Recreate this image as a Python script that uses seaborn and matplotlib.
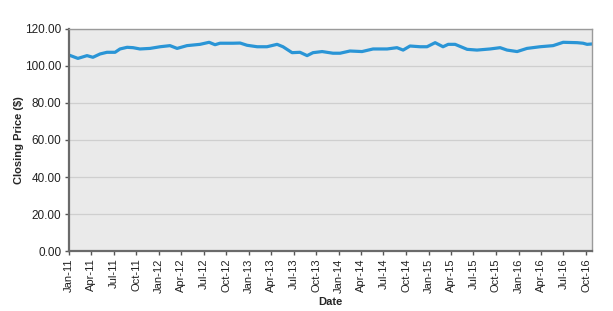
import matplotlib
matplotlib.use("Agg")
import matplotlib.pyplot as plt
import matplotlib.dates as mdates
from matplotlib.ticker import FixedLocator, FuncFormatter
import seaborn as sns
import pandas as pd

dates = [
    "2011-01-01", "2011-02-06", "2011-03-15", "2011-04-08", "2011-05-07", "2011-06-04",
    "2011-07-07", "2011-07-27", "2011-08-25", "2011-09-18", "2011-10-16", "2011-11-26",
    "2012-01-06", "2012-02-15", "2012-03-15", "2012-04-24", "2012-06-16", "2012-07-23",
    "2012-08-16", "2012-09-05", "2012-10-28", "2012-11-26", "2012-12-24", "2013-02-03",
    "2013-03-15", "2013-04-25", "2013-05-19", "2013-06-25", "2013-07-27", "2013-08-25",
    "2013-09-18", "2013-10-25", "2013-12-08", "2014-01-06", "2014-02-15", "2014-04-05",
    "2014-05-20", "2014-07-16", "2014-08-25", "2014-09-19", "2014-10-17", "2014-11-27",
    "2014-12-25", "2015-01-27", "2015-02-28", "2015-03-21", "2015-04-18", "2015-06-06",
    "2015-07-16", "2015-09-07", "2015-10-18", "2015-11-15", "2015-12-26", "2016-02-04",
    "2016-03-28", "2016-05-20", "2016-06-30", "2016-08-26", "2016-09-19", "2016-10-05",
    "2016-10-25",
]
prices = [
    105.9, 104.1, 105.6, 104.7, 106.5, 107.4,
    107.4, 109.2, 110.1, 109.9, 109.2, 109.5,
    110.4, 111.0, 109.5, 111.0, 111.7, 112.8,
    111.5, 112.3, 112.3, 112.4, 111.2, 110.4,
    110.4, 111.7, 110.4, 107.2, 107.4, 105.6,
    107.2, 107.8, 106.9, 106.9, 108.1, 107.8,
    109.2, 109.2, 109.9, 108.6, 110.8, 110.4,
    110.4, 112.6, 110.4, 111.7, 111.7, 109.0,
    108.6, 109.2, 109.9, 108.6, 107.8, 109.5,
    110.4, 111.0, 112.8, 112.6, 112.3, 111.7,
    111.9,
]
y_ticks = [0, 20, 40, 60, 80, 100, 120]

df = pd.DataFrame({"Date": pd.to_datetime(dates), "Price": prices})

sns.set_theme(style="white")
plt.rcParams["font.family"] = ["Liberation Sans", "DejaVu Sans"]

fig = plt.figure(figsize=(6.13, 3.11), dpi=100)
ax = fig.add_axes([0.1126, 0.1929, 0.8531, 0.7139])
ax.set_facecolor("#EAEAEA")

sns.lineplot(data=df, x="Date", y="Price", ax=ax, color="#2A95D6", linewidth=2.3)

ax.set_ylim(0, 120)
ax.set_yticks(y_ticks)
ax.yaxis.set_major_formatter(FuncFormatter(lambda v, p: f"{v:.2f}"))
ax.grid(axis="y", color="#CFCFCF", linewidth=0.9)
ax.set_axisbelow(True)

ticks = pd.date_range("2011-01-01", "2016-10-01", freq="QS")
ax.xaxis.set_major_locator(FixedLocator(mdates.date2num(ticks)))
ax.xaxis.set_major_formatter(mdates.DateFormatter("%b-%y"))
ax.set_xlim(pd.Timestamp("2011-01-01"), df["Date"].iloc[-1])
plt.setp(ax.get_xticklabels(), rotation=90, fontsize=8, color="#222222")
plt.setp(ax.get_yticklabels(), fontsize=8.5, color="#222222")

ax.tick_params(axis="both", which="major", direction="out", length=3, width=1,
               color="#555555", bottom=True, left=True, pad=2.5)

for side in ["left", "bottom"]:
    ax.spines[side].set_color("#6A6A6A")
    ax.spines[side].set_linewidth(1.6)
for side in ["top", "right"]:
    ax.spines[side].set_color("#9A9A9A")
    ax.spines[side].set_linewidth(1.0)

ax.set_xlabel("Date", fontsize=8, fontweight="bold", labelpad=3)
ax.set_ylabel("Closing Price ($)", fontsize=8, fontweight="bold", labelpad=1)

fig.savefig("out.png", dpi=100)
